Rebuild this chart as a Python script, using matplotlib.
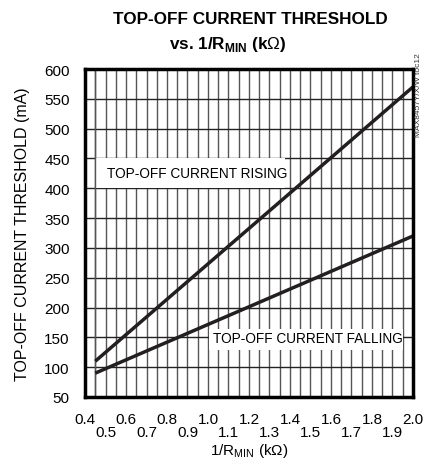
import matplotlib
matplotlib.use("Agg")
import matplotlib.pyplot as plt
from matplotlib.patches import Rectangle
import numpy as np

FONT = "Liberation Sans"
plt.rcParams['font.family'] = [FONT, 'DejaVu Sans']
plt.rcParams['mathtext.fontset'] = 'custom'
plt.rcParams['mathtext.rm'] = FONT
plt.rcParams['mathtext.bf'] = FONT + ':bold'

# data
inv_r = [0.45, 2.0]
rising = [110, 570]
falling = [90, 320]
x_major = [0.4, 0.6, 0.8, 1.0, 1.2, 1.4, 1.6, 1.8, 2.0]
x_minor = [0.5, 0.7, 0.9, 1.1, 1.3, 1.5, 1.7, 1.9]
y_ticks = [50, 100, 150, 200, 250, 300, 350, 400, 450, 500, 550, 600]

fig = plt.figure(figsize=(4.25, 4.64), dpi=100)
ax = fig.add_axes([85/425, 1-398/464, 328/425, 328/464])
ax.set_xlim(0.4, 2.0)
ax.set_ylim(50, 600)

for xv in np.arange(0.45, 2.0, 0.05):
    ax.axvline(xv, color='#555555', lw=1.0, zorder=1)
for yv in y_ticks[1:-1]:
    ax.axhline(yv, color='#222222', lw=1.0, zorder=1)

# label boxes
ax.add_patch(Rectangle((0.455, 400), 0.92, 50, facecolor='white', edgecolor='none', zorder=2))
ax.axvline(0.45, color='#555555', lw=1.0, zorder=2)
ax.text(0.505, 425, 'TOP-OFF CURRENT RISING', fontsize=9.8, va='center', ha='left', zorder=3)
ax.add_patch(Rectangle((1.005, 128), 0.945, 36, facecolor='white', edgecolor='none', zorder=2))
ax.text(1.022, 149, 'TOP-OFF CURRENT FALLING', fontsize=9.8, va='center', ha='left', zorder=3)

ax.plot(inv_r, rising, color='#231f20', lw=2.5, zorder=4, solid_capstyle='butt')
ax.plot(inv_r, falling, color='#231f20', lw=2.5, zorder=4, solid_capstyle='butt')

for s in ax.spines.values():
    s.set_linewidth(2.5)
    s.set_zorder(5)

ax.set_yticks(y_ticks)
ax.set_yticklabels([str(v) for v in y_ticks], fontsize=11)
ax.set_xticks(x_major + x_minor)
ax.set_xticklabels([f"{v:.1f}" for v in x_major] + ["\n" + f"{v:.1f}" for v in x_minor], fontsize=11, linespacing=0.9)
ax.tick_params(axis='y', length=0, pad=11)
ax.tick_params(axis='x', length=0, pad=11)

ax.set_xlabel(r'1/R$_{\mathrm{MIN}}$ (k$\Omega$)', fontsize=11, labelpad=1)
ax.set_ylabel('TOP-OFF CURRENT THRESHOLD (mA)', fontsize=11.5, labelpad=10)

fig.text(250/425, 1-19/464, 'TOP-OFF CURRENT THRESHOLD', fontsize=12.3, fontweight='bold', ha='center', va='center')
fig.text(228/425, 1-45/464, r'vs. 1/R$_{\mathbf{MIN}}$ (k$\Omega$)', fontsize=12.3, fontweight='bold', ha='center', va='center')
fig.text(419/425, 1-95/464, 'MAX8457Y/X/W toc12', fontsize=6, rotation=90, ha='center', va='center', color='#333333')

fig.savefig('out.png', dpi=100)
